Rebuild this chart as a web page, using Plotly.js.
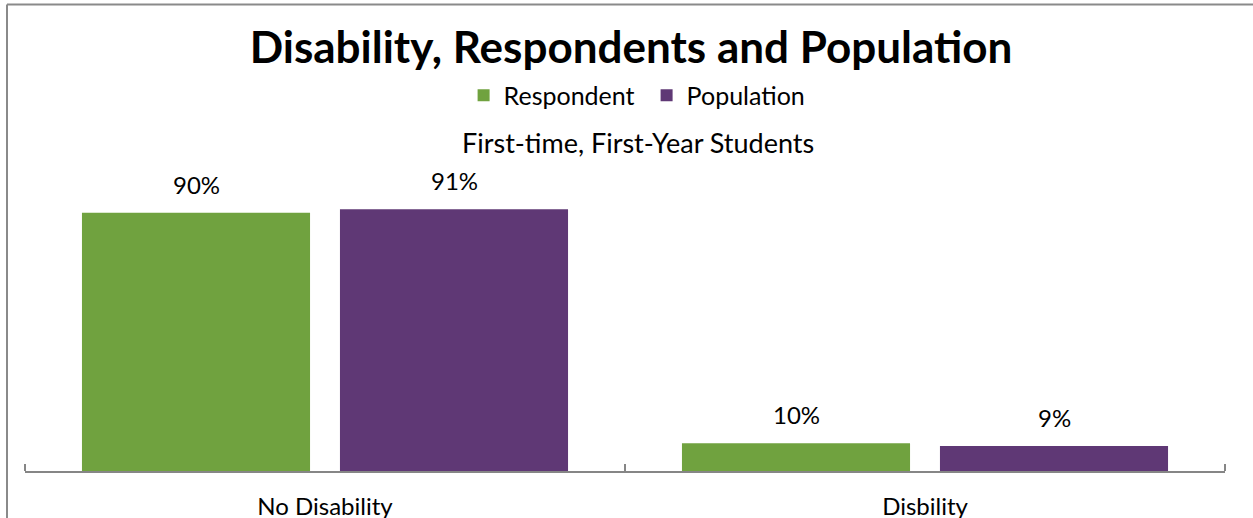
<!DOCTYPE html>
<html>
<head>
<meta charset="utf-8">
<script src="https://cdn.plot.ly/plotly-3.0.1.min.js"></script>
<style>html,body{margin:0;padding:0;background:#fff;}#chart{width:1253px;height:518px;}</style>
</head>
<body>
<div id="chart"></div>
<script>
const categories = ["No Disability", "Disbility"];
const seriesNames = ["Respondent", "Population"];
const respondent = [0.900, 0.097];
const population = [0.912, 0.087];
const chartTitle = "Disability, Respondents and Population";
const subTitle = "First-time, First-Year Students";

const colors = ["#70A23F", "#5F3875"];
const FONT = "Lato, 'Open Sans', sans-serif";

const bargap = 0.14, bargroupgap = 0.116;
const values = [respondent, population];

const traces = values.map((vals, i) => ({
  type: "bar",
  name: seriesNames[i],
  x: categories,
  y: vals,
  marker: {color: colors[i], line: {width: 0}},
  hoverinfo: "none"
}));

const plotW = 1200;
const slotPx = plotW / categories.length * (1 - bargap) / values.length;
const annotations = [];
values.forEach((vals, i) => {
  vals.forEach((v, j) => {
    annotations.push({
      xref: "x", yref: "y", x: categories[j], y: v,
      xshift: (i - (values.length - 1) / 2) * slotPx,
      yshift: 12,
      yanchor: "bottom", showarrow: false,
      text: Math.round(v * 100) + "%",
      font: {family: FONT, size: 24, color: "#000"}
    });
  });
});
annotations.push({
  xref: "paper", yref: "paper", x: 0.511, y: 1.144,
  xanchor: "center", yanchor: "middle", showarrow: false,
  text: subTitle, font: {family: FONT, size: 27, color: "#000"}
});

const layout = {
  width: 1253, height: 518,
  margin: {l: 25, r: 28, t: 184, b: 47},
  paper_bgcolor: "#fff", plot_bgcolor: "#fff",
  barmode: "group", bargap: bargap, bargroupgap: bargroupgap,
  title: {
    text: "<b>" + chartTitle + "</b>",
    x: 0.5036, xanchor: "center", xref: "container",
    y: 0.909, yanchor: "middle", yref: "container",
    font: {family: FONT, size: 44, color: "#000"}
  },
  showlegend: true,
  legend: {
    orientation: "h", x: 0.518, xanchor: "center", y: 1.308, yanchor: "middle",
    font: {family: FONT, size: 25, color: "#000"},
    itemwidth: 30, entrywidth: 138,
    itemclick: false, itemdoubleclick: false, traceorder: "normal"
  },
  xaxis: {
    type: "category", range: [-0.5, 1.5], fixedrange: true,
    showline: true, linecolor: "#868686", linewidth: 2,
    ticks: "inside", tickson: "boundaries", ticklen: 7, tickwidth: 2, tickcolor: "#868686",
    tickfont: {family: FONT, size: 24, color: "#000"},
    ticklabelstandoff: 13,
    showgrid: false, zeroline: false
  },
  yaxis: {
    range: [0, 1], visible: false, showgrid: false, zeroline: false, fixedrange: true
  },
  annotations: annotations,
  shapes: [
    {type: "line", xref: "paper", yref: "paper", x0: -0.015, x1: 1.05, y0: 1.6254, y1: 1.6254,
     line: {color: "#8a8a8a", width: 2}},
    {type: "line", xref: "paper", yref: "paper", x0: -0.015, x1: -0.015, y0: -0.3, y1: 1.6254,
     line: {color: "#8a8a8a", width: 2}},
    {type: "line", xref: "paper", yref: "paper", x0: 0, x1: 0, y0: 0, y1: 0.0244,
     line: {color: "#868686", width: 2}},
    {type: "line", xref: "paper", yref: "paper", x0: 1, x1: 1, y0: 0, y1: 0.0244,
     line: {color: "#868686", width: 2}}
  ]
};

Plotly.newPlot("chart", traces, layout, {displayModeBar: false, staticPlot: true});
</script>
</body>
</html>
